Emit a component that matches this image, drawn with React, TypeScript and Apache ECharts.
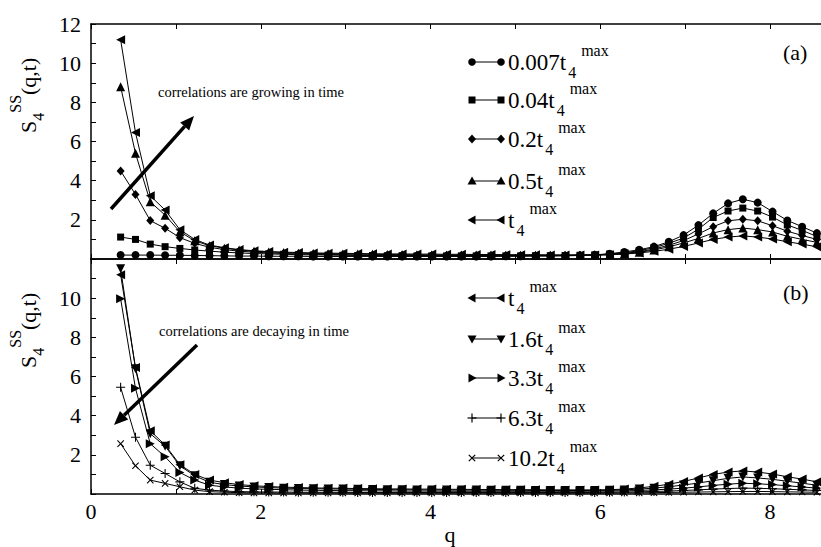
import React, { useEffect, useRef } from "react";
import * as echarts from "echarts";

const Q = [
  0.349, 0.524, 0.698, 0.873, 1.047, 1.222, 1.396, 1.571, 1.745, 1.92,
  2.094, 2.269, 2.443, 2.618, 2.793, 2.967, 3.142, 3.316, 3.491, 3.665,
  3.84, 4.014, 4.189, 4.363, 4.538, 4.712, 4.887, 5.061, 5.236, 5.411,
  5.585, 5.76, 5.934, 6.109, 6.283, 6.458, 6.632, 6.807, 6.981, 7.156,
  7.33, 7.505, 7.679, 7.854, 8.029, 8.203, 8.378, 8.552,
];

const A_0007 = [
  0.2, 0.2, 0.2, 0.19, 0.19, 0.18, 0.17, 0.16, 0.15, 0.15,
  0.14, 0.14, 0.14, 0.13, 0.13, 0.13, 0.13, 0.13, 0.13, 0.13,
  0.13, 0.13, 0.13, 0.13, 0.13, 0.13, 0.14, 0.14, 0.15, 0.15,
  0.16, 0.18, 0.21, 0.27, 0.36, 0.47, 0.63, 0.88, 1.22, 1.73,
  2.33, 2.84, 3.05, 2.88, 2.42, 1.97, 1.65, 1.32,
];
const A_004 = [
  1.12, 1.0, 0.76, 0.63, 0.54, 0.46, 0.4, 0.35, 0.31, 0.28,
  0.26, 0.24, 0.22, 0.21, 0.2, 0.19, 0.18, 0.18, 0.17, 0.17,
  0.16, 0.16, 0.16, 0.16, 0.16, 0.16, 0.16, 0.16, 0.17, 0.17,
  0.18, 0.19, 0.21, 0.25, 0.32, 0.42, 0.58, 0.8, 1.07, 1.52,
  2.12, 2.45, 2.6, 2.45, 2.14, 1.74, 1.46, 1.15,
];
const A_02 = [
  4.5, 3.3, 1.96, 1.57, 1.09, 0.8, 0.6, 0.48, 0.4, 0.35,
  0.31, 0.28, 0.26, 0.24, 0.23, 0.22, 0.21, 0.2, 0.19, 0.19,
  0.18, 0.18, 0.18, 0.18, 0.17, 0.17, 0.17, 0.17, 0.17, 0.18,
  0.18, 0.19, 0.2, 0.23, 0.29, 0.37, 0.51, 0.7, 0.94, 1.28,
  1.65, 1.95, 2.03, 1.95, 1.7, 1.42, 1.2, 1.0,
];
const A_05 = [
  8.8, 5.4, 2.92, 2.24, 1.39, 0.93, 0.68, 0.55, 0.46, 0.4,
  0.36, 0.33, 0.3, 0.28, 0.27, 0.26, 0.25, 0.24, 0.23, 0.22,
  0.22, 0.21, 0.21, 0.2, 0.2, 0.2, 0.19, 0.19, 0.19, 0.19,
  0.19, 0.19, 0.2, 0.22, 0.27, 0.34, 0.46, 0.62, 0.82, 1.05,
  1.33, 1.5, 1.58, 1.5, 1.38, 1.16, 1.0, 0.85,
];
const T_1 = [
  11.2, 6.46, 3.23, 2.5, 1.5, 1.0, 0.71, 0.58, 0.48, 0.42,
  0.38, 0.35, 0.33, 0.31, 0.3, 0.29, 0.28, 0.27, 0.26, 0.26,
  0.25, 0.25, 0.24, 0.24, 0.23, 0.23, 0.22, 0.22, 0.22, 0.21,
  0.21, 0.21, 0.21, 0.22, 0.25, 0.31, 0.39, 0.5, 0.64, 0.82,
  1.0, 1.12, 1.18, 1.12, 1.02, 0.88, 0.76, 0.62,
];
const B_16 = [
  11.5, 6.4, 3.08, 2.44, 1.44, 0.93, 0.6, 0.48, 0.41, 0.36,
  0.33, 0.3, 0.28, 0.27, 0.26, 0.25, 0.24, 0.23, 0.22, 0.22,
  0.21, 0.21, 0.2, 0.2, 0.2, 0.19, 0.19, 0.19, 0.18, 0.18,
  0.18, 0.18, 0.18, 0.19, 0.21, 0.25, 0.3, 0.37, 0.46, 0.56,
  0.68, 0.8, 0.87, 0.82, 0.75, 0.65, 0.55, 0.45,
];
const B_33 = [
  9.97, 5.4, 2.57, 1.9, 1.1, 0.71, 0.45, 0.36, 0.3, 0.26,
  0.24, 0.22, 0.2, 0.19, 0.18, 0.17, 0.17, 0.16, 0.16, 0.15,
  0.15, 0.15, 0.14, 0.14, 0.14, 0.14, 0.14, 0.14, 0.14, 0.14,
  0.14, 0.14, 0.14, 0.15, 0.16, 0.18, 0.21, 0.25, 0.3, 0.36,
  0.44, 0.5, 0.55, 0.52, 0.48, 0.42, 0.36, 0.3,
];
const B_63 = [
  5.45, 2.9, 1.47, 1.05, 0.62, 0.29, 0.2, 0.15, 0.12, 0.11,
  0.1, 0.1, 0.09, 0.09, 0.09, 0.09, 0.08, 0.08, 0.08, 0.08,
  0.08, 0.08, 0.08, 0.08, 0.08, 0.08, 0.08, 0.08, 0.08, 0.08,
  0.08, 0.08, 0.08, 0.09, 0.1, 0.11, 0.13, 0.15, 0.18, 0.21,
  0.25, 0.28, 0.3, 0.29, 0.27, 0.24, 0.21, 0.18,
];
const B_102 = [
  2.57, 1.44, 0.71, 0.54, 0.37, 0.2, 0.12, 0.09, 0.07, 0.06,
  0.06, 0.05, 0.05, 0.05, 0.05, 0.05, 0.05, 0.05, 0.05, 0.05,
  0.05, 0.05, 0.05, 0.05, 0.05, 0.05, 0.05, 0.05, 0.05, 0.05,
  0.05, 0.05, 0.05, 0.05, 0.06, 0.06, 0.07, 0.08, 0.09, 0.1,
  0.11, 0.12, 0.13, 0.13, 0.12, 0.11, 0.1, 0.09,
];

const TOP_LABELS = ["0.007t", "0.04t", "0.2t", "0.5t", "t"];
const BOTTOM_LABELS = ["t", "1.6t", "3.3t", "6.3t", "10.2t"];
const X_TICKS = [0, 2, 4, 6, 8];

const FONT = "Liberation Serif, DejaVu Serif, serif";
const PLUS = "path://M4.4,0H5.6V4.4H10V5.6H5.6V10H4.4V5.6H0V4.4H4.4Z";

type Sym = "circle" | "square" | "diamond" | "up" | "left" | "down" | "right" | "plus" | "cross";

function symOpts(s: Sym) {
  switch (s) {
    case "circle": return { symbol: "circle", symbolSize: 8 };
    case "square": return { symbol: "rect", symbolSize: 7 };
    case "diamond": return { symbol: "diamond", symbolSize: [8, 9] };
    case "up": return { symbol: "triangle", symbolSize: 9 };
    case "left": return { symbol: "triangle", symbolSize: 9, symbolRotate: 90 };
    case "down": return { symbol: "triangle", symbolSize: 9, symbolRotate: 180 };
    case "right": return { symbol: "triangle", symbolSize: 9, symbolRotate: -90 };
    case "plus": return { symbol: PLUS, symbolSize: 9 };
    case "cross": return { symbol: PLUS, symbolSize: 9, symbolRotate: 45 };
  }
}

function legendSymbol(s: Sym, cx: number, cy: number): any {
  const fill = { fill: "#000" };
  switch (s) {
    case "circle": return { type: "circle", shape: { cx, cy, r: 3.8 }, style: fill };
    case "square": return { type: "rect", shape: { x: cx - 3.5, y: cy - 3.5, width: 7, height: 7 }, style: fill };
    case "diamond": return { type: "polygon", shape: { points: [[cx, cy - 4.5], [cx + 4, cy], [cx, cy + 4.5], [cx - 4, cy]] }, style: fill };
    case "up": return { type: "polygon", shape: { points: [[cx, cy - 4.5], [cx + 4.5, cy + 3.5], [cx - 4.5, cy + 3.5]] }, style: fill };
    case "down": return { type: "polygon", shape: { points: [[cx, cy + 4.5], [cx + 4.5, cy - 3.5], [cx - 4.5, cy - 3.5]] }, style: fill };
    case "left": return { type: "polygon", shape: { points: [[cx - 4.5, cy], [cx + 3.5, cy - 4.5], [cx + 3.5, cy + 4.5]] }, style: fill };
    case "right": return { type: "polygon", shape: { points: [[cx + 4.5, cy], [cx - 3.5, cy - 4.5], [cx - 3.5, cy + 4.5]] }, style: fill };
    case "plus": return { type: "group", children: [
      { type: "line", shape: { x1: cx - 4.5, y1: cy, x2: cx + 4.5, y2: cy }, style: { stroke: "#000", lineWidth: 1.2 } },
      { type: "line", shape: { x1: cx, y1: cy - 4.5, x2: cx, y2: cy + 4.5 }, style: { stroke: "#000", lineWidth: 1.2 } },
    ] };
    case "cross": return { type: "group", children: [
      { type: "line", shape: { x1: cx - 3.2, y1: cy - 3.2, x2: cx + 3.2, y2: cy + 3.2 }, style: { stroke: "#000", lineWidth: 1.2 } },
      { type: "line", shape: { x1: cx - 3.2, y1: cy + 3.2, x2: cx + 3.2, y2: cy - 3.2 }, style: { stroke: "#000", lineWidth: 1.2 } },
    ] };
  }
}

let measureCtx: CanvasRenderingContext2D | null = null;
function textW(t: string, size: number) {
  if (!measureCtx) measureCtx = document.createElement("canvas").getContext("2d");
  if (!measureCtx) return t.length * size * 0.5;
  measureCtx.font = `${size}px ${FONT}`;
  return measureCtx.measureText(t).width;
}

const MAIN = 22;
const LEG = 23;
const SMALL = 16;

function legendItem(s: Sym, label: string, y: number): any[] {
  const x0 = 508;
  const w1 = textW(label, LEG);
  const w2 = textW("4", SMALL);
  return [
    { type: "line", shape: { x1: 472, y1: y, x2: 501, y2: y }, style: { stroke: "#000", lineWidth: 1 } },
    legendSymbol(s, 472, y),
    legendSymbol(s, 501, y),
    { type: "text", x: x0, y, style: { text: label, fontFamily: FONT, fontSize: LEG, fill: "#000", textAlign: "left", textVerticalAlign: "middle" } },
    { type: "text", x: x0 + w1 + 2, y: y + 10, style: { text: "4", fontFamily: FONT, fontSize: SMALL, fill: "#000", textAlign: "left", textVerticalAlign: "middle" } },
    { type: "text", x: x0 + w1 + 2 + w2 + 5, y: y - 12, style: { text: "max", fontFamily: FONT, fontSize: SMALL, fill: "#000", textAlign: "left", textVerticalAlign: "middle" } },
  ];
}

function yName(baseY: number): any[] {
  const wS = textW("S", MAIN);
  const w4 = textW("4", SMALL);
  const wSS = textW("SS", SMALL);
  const common = { fill: "#000", textAlign: "left", textVerticalAlign: "middle", fontFamily: FONT };
  return [
    { type: "text", x: 28, y: baseY, rotation: Math.PI / 2, style: { ...common, text: "S", fontSize: MAIN } },
    { type: "text", x: 38, y: baseY - wS, rotation: Math.PI / 2, style: { ...common, text: "4", fontSize: SMALL } },
    { type: "text", x: 15, y: baseY - wS - w4, rotation: Math.PI / 2, style: { ...common, text: "SS", fontSize: SMALL } },
    { type: "text", x: 28, y: baseY - wS - w4 - wSS, rotation: Math.PI / 2, style: { ...common, text: "(q,t)", fontSize: MAIN } },
  ];
}

function arrow(x1: number, y1: number, tx: number, ty: number): any[] {
  const dx = tx - x1, dy = ty - y1;
  const L = Math.hypot(dx, dy);
  const ux = dx / L, uy = dy / L;
  const bx = tx - 14 * ux, by = ty - 14 * uy;
  const px = -uy, py = ux;
  return [
    { type: "line", shape: { x1, y1, x2: bx, y2: by }, style: { stroke: "#000", lineWidth: 3.5 } },
    { type: "polygon", shape: { points: [[tx, ty], [bx + 6 * px, by + 6 * py], [bx - 6 * px, by - 6 * py]] }, style: { fill: "#000" } },
  ];
}

const TOP_SERIES: [number[], Sym][] = [
  [A_0007, "circle"], [A_004, "square"], [A_02, "diamond"], [A_05, "up"], [T_1, "left"],
];
const BOTTOM_SERIES: [number[], Sym][] = [
  [T_1, "left"], [B_16, "down"], [B_33, "right"], [B_63, "plus"], [B_102, "cross"],
];

export default function App() {
  const ref = useRef<HTMLDivElement>(null);
  useEffect(() => {
    if (!ref.current) return;
    const chart = echarts.init(ref.current, undefined, { renderer: "svg" });
    const axisLine = { show: true, lineStyle: { color: "#000", width: 1.5 } };
    const tick = { show: true, inside: true, length: 5, lineStyle: { color: "#000", width: 1 } };
    const xBase = (grid: number, pos: string, labels: boolean) => ({
      type: "value", gridIndex: grid, position: pos, min: 0, max: 8.6, interval: 1,
      axisLine, axisTick: tick, splitLine: { show: false },
      axisLabel: {
        show: labels, color: "#000", fontFamily: FONT, fontSize: 22, margin: 6, showMaxLabel: false,
        formatter: (v: number) => (X_TICKS.includes(v) ? String(v) : ""),
      },
    });
    const yBase = (grid: number, maxLabel: number) => ({
      type: "value", gridIndex: grid, min: 0, max: 12, interval: 1,
      axisLine, axisTick: tick, splitLine: { show: false },
      axisLabel: {
        color: "#000", fontFamily: FONT, fontSize: 22, margin: 10,
        formatter: (v: number) => (v > 0 && v <= maxLabel && v % 2 === 0 ? String(v) : ""),
      },
    });
    const mk = (list: [number[], Sym][], xi: number, yi: number) =>
      list.map(([vals, s]) => ({
        type: "line", xAxisIndex: xi, yAxisIndex: yi,
        data: Q.map((q, i) => [q, vals[i]]),
        lineStyle: { color: "#000", width: 1 },
        itemStyle: { color: "#000" },
        ...symOpts(s),
        showAllSymbol: true,
        z: 3,
      }));

    const graphics: any[] = [];
    TOP_LABELS.forEach((l, i) => graphics.push(...legendItem(TOP_SERIES[i][1], l, [62, 100, 139, 181, 220][i])));
    BOTTOM_LABELS.forEach((l, i) => graphics.push(...legendItem(BOTTOM_SERIES[i][1], l, [298, 339, 378, 418, 458][i])));
    graphics.push(...yName(133), ...yName(368));
    graphics.push(...arrow(111, 209, 194, 116), ...arrow(197, 345, 114, 425));
    const txt = (x: number, y: number, text: string, size: number, align = "left") => ({
      type: "text", x, y, style: { text, fontFamily: FONT, fontSize: size, fill: "#000", textAlign: align, textVerticalAlign: "middle" },
    });
    graphics.push(
      txt(158, 92, "correlations are growing in time", 14.5),
      txt(159, 331, "correlations are decaying in time", 14.5),
      txt(783, 52, "(a)", 22),
      txt(783, 292, "(b)", 22),
      txt(450, 534, "q", 22, "center"),
    );

    chart.setOption({
      animation: false,
      backgroundColor: "#fff",
      textStyle: { fontFamily: FONT },
      grid: [
        { left: 91, right: 0, top: 24, height: 235 },
        { left: 91, right: 0, top: 259, height: 235 },
      ],
      xAxis: [xBase(0, "bottom", false), xBase(0, "top", false), xBase(1, "bottom", true), xBase(1, "top", false)],
      yAxis: [yBase(0, 12), yBase(1, 10)],
      series: [...mk(TOP_SERIES, 0, 0), ...mk(BOTTOM_SERIES, 2, 1)],
      graphic: graphics,
    });
    return () => chart.dispose();
  }, []);
  return <div ref={ref} style={{ position: "fixed", left: 0, top: 0, width: 821, height: 547 }} />;
}
